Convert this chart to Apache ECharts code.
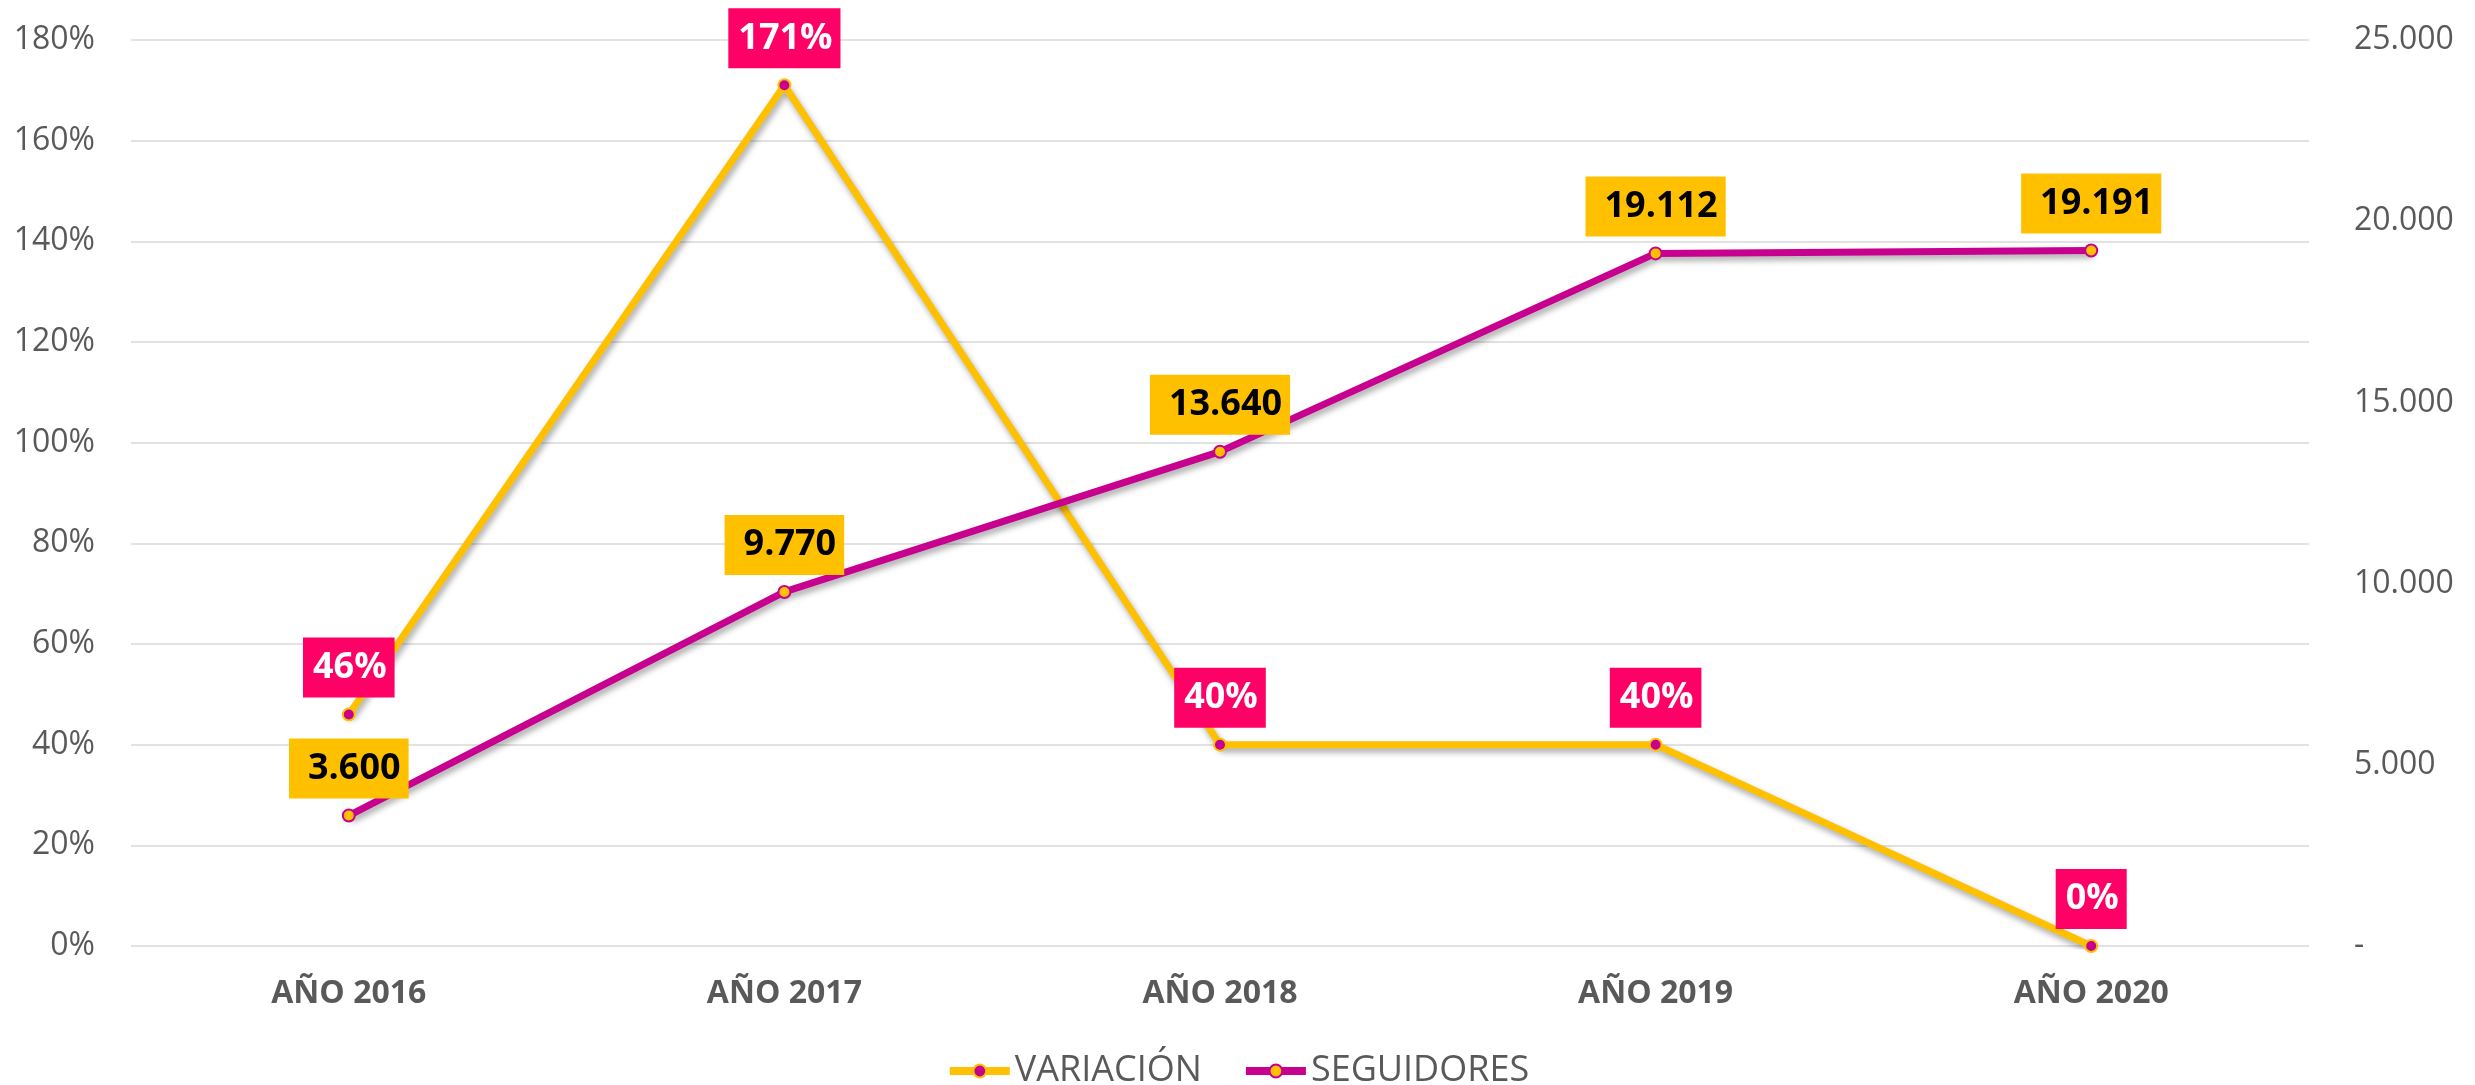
<!DOCTYPE html>
<html>
<head>
<meta charset="utf-8">
<script src="https://cdn.jsdelivr.net/npm/echarts@6/dist/echarts.min.js"></script>
<style>
html,body{margin:0;padding:0;background:#fff;}
#chart{width:2475px;height:1085px;}
</style>
</head>
<body>
<div id="chart"></div>
<script>
const categories = ['AÑO 2016', 'AÑO 2017', 'AÑO 2018', 'AÑO 2019', 'AÑO 2020'];
const variacion = [46, 171, 40, 40, 0];
const seguidores = [3600, 9770, 13640, 19112, 19191];
const leftTicks = { min: 0, max: 180, interval: 20 };
const rightTicks = { min: 0, max: 25000, interval: 5000 };

const ORANGE = '#FFC000';
const MAGENTA = '#C8008F';
const PINK = '#FF0066';
const FONT = 'Open Sans';

function thousands(v) {
  return String(Math.round(v)).replace(/\B(?=(\d{3})+(?!\d))/g, '.');
}

const chart = echarts.init(document.getElementById('chart'), null, { renderer: 'canvas' });
const lineShadow = { shadowColor: 'rgba(0,0,0,0.35)', shadowBlur: 6, shadowOffsetX: 2, shadowOffsetY: 4 };

chart.setOption({
  backgroundColor: '#ffffff',
  animation: false,
  textStyle: { fontFamily: FONT },
  grid: { left: 131, right: 166, top: 40, bottom: 139, containLabel: false },
  legend: {
    left: 'center',
    top: 1048,
    itemWidth: 60,
    itemHeight: 16,
    itemGap: 40,
    lineStyle: { width: 8, shadowBlur: 0, shadowOffsetX: 0, shadowOffsetY: 0 },
    textStyle: { fontFamily: FONT, fontSize: 36, color: '#595959' },
    data: ['VARIACIÓN', 'SEGUIDORES']
  },
  xAxis: {
    type: 'category',
    data: categories,
    boundaryGap: true,
    axisLine: { show: false },
    axisTick: { show: false },
    axisLabel: { fontFamily: FONT, fontSize: 32, fontWeight: 'bold', color: '#595959', margin: 32 }
  },
  yAxis: [
    {
      type: 'value',
      min: leftTicks.min, max: leftTicks.max, interval: leftTicks.interval,
      axisLine: { show: false },
      axisTick: { show: false },
      splitLine: { lineStyle: { color: '#D9D9D9', width: 1.5 } },
      axisLabel: { fontFamily: FONT, fontSize: 32, color: '#595959', margin: 36, formatter: v => v + '%' }
    },
    {
      type: 'value',
      position: 'right',
      min: rightTicks.min, max: rightTicks.max, interval: rightTicks.interval,
      axisLine: { show: false },
      axisTick: { show: false },
      splitLine: { show: false },
      axisLabel: { fontFamily: FONT, fontSize: 32, color: '#595959', margin: 45,
        formatter: v => v === 0 ? '-' : thousands(v) }
    }
  ],
  series: [
    {
      name: 'VARIACIÓN',
      type: 'line',
      yAxisIndex: 0,
      data: variacion,
      symbol: 'circle',
      symbolSize: 12,
      itemStyle: { color: MAGENTA, borderColor: ORANGE, borderWidth: 2 },
      lineStyle: Object.assign({ color: ORANGE, width: 7 }, lineShadow),
      label: {
        show: true,
        position: 'top',
        distance: 10,
        formatter: p => p.value + '%',
        fontFamily: FONT,
        fontSize: 36,
        fontWeight: 'bold',
        color: '#ffffff',
        backgroundColor: PINK,
        padding: [8, 8, 8, 10],
        lineHeight: 44
      },
      z: 3
    },
    {
      name: 'SEGUIDORES',
      type: 'line',
      yAxisIndex: 1,
      data: seguidores,
      symbol: 'circle',
      symbolSize: 12,
      itemStyle: { color: ORANGE, borderColor: MAGENTA, borderWidth: 2 },
      lineStyle: Object.assign({ color: MAGENTA, width: 7 }, lineShadow),
      label: {
        show: true,
        position: 'top',
        distance: 10,
        formatter: p => thousands(p.value),
        fontFamily: FONT,
        fontSize: 36,
        fontWeight: 'bold',
        color: '#000000',
        backgroundColor: ORANGE,
        padding: [8, 8, 8, 19],
        lineHeight: 44
      },
      z: 4
    }
  ]
});
</script>
</body>
</html>
